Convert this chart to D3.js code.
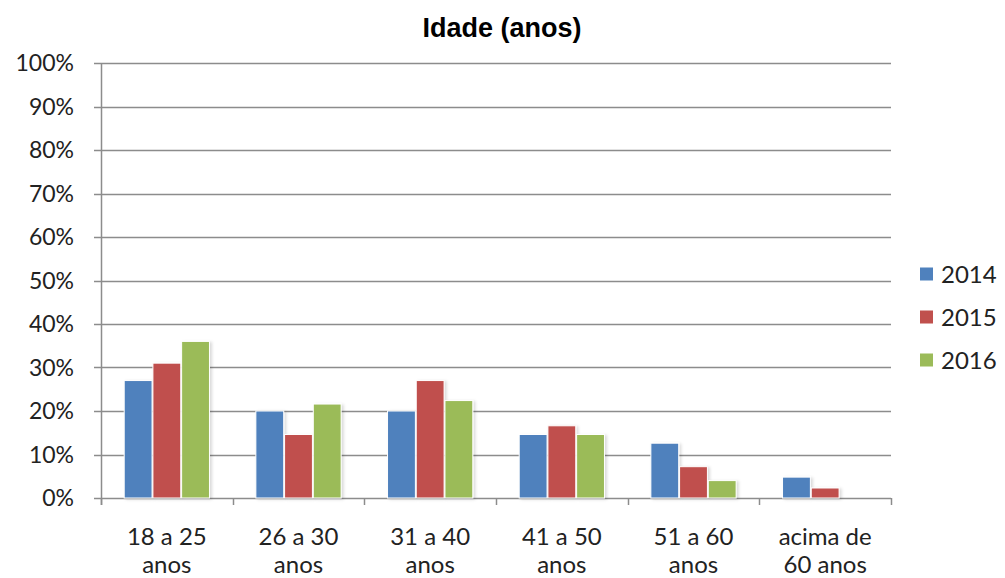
<!DOCTYPE html>
<html><head><meta charset="utf-8">
<script src="https://cdn.jsdelivr.net/npm/d3@7/dist/d3.min.js"></script>
<style>body{margin:0;background:#fff}</style>
</head><body>
<svg id="c" width="1005" height="578"></svg>
<script>
const categories = [["18 a 25","anos"],["26 a 30","anos"],["31 a 40","anos"],["41 a 50","anos"],["51 a 60","anos"],["acima de","60 anos"]];
const seriesNames = ["2014","2015","2016"];
const v2014 = [27, 20, 20, 14.6, 12.6, 4.8];
const v2015 = [31, 14.6, 27, 16.6, 7.2, 2.3];
const v2016 = [36, 21.6, 22.4, 14.6, 4, 0];
const colors = ["#4F81BD","#C0504D","#9BBB59"];
const yTicks = [0,10,20,30,40,50,60,70,80,90,100];
const title = "Idade (anos)";

(function(){
const series = [v2014, v2015, v2016];
const svg = d3.select("#c");
const mLeft = 101, mRight = 891, mTop = 63, mBottom = 498;
const font = "Lato, 'Open Sans', sans-serif";
const x = d3.scaleBand().domain(d3.range(categories.length)).range([mLeft, mRight]).paddingInner(0).paddingOuter(0);
const y = d3.scaleLinear().domain([0,100]).range([mBottom, mTop]);
const groupW = 87;
const xs = d3.scaleBand().domain(d3.range(3)).range([0, groupW]).padding(0.03);

const gridColor = "#8c8c8c";
svg.append("g").selectAll("line").data(yTicks).join("line")
  .attr("x1", mLeft - 7).attr("x2", mRight).attr("y1", d => Math.round(y(d))+0.5).attr("y2", d => Math.round(y(d))+0.5)
  .attr("stroke", gridColor).attr("stroke-width", 1.5);
svg.append("line").attr("x1", mLeft+0.5).attr("x2", mLeft+0.5).attr("y1", mTop).attr("y2", mBottom+7).attr("stroke", gridColor).attr("stroke-width",1.5);
svg.append("g").selectAll("line").data(d3.range(categories.length+1)).join("line")
  .attr("x1", i => Math.round(mLeft + i*x.bandwidth())+0.5).attr("x2", i => Math.round(mLeft + i*x.bandwidth())+0.5)
  .attr("y1", mBottom).attr("y2", mBottom+7).attr("stroke", gridColor).attr("stroke-width",1.5);

svg.append("g").selectAll("text").data(yTicks).join("text")
  .attr("x", 74).attr("y", d => y(d)).attr("dy","0.36em").attr("text-anchor","end")
  .attr("font-family", font).attr("font-size", 23).attr("fill","#222")
  .text(d => d + "%");

const defs = svg.append("defs");
const f = defs.append("filter").attr("id","sh").attr("x","-20%").attr("y","-20%").attr("width","150%").attr("height","150%");
f.append("feDropShadow").attr("dx",2).attr("dy",1).attr("stdDeviation",1.5).attr("flood-color","#000").attr("flood-opacity",0.15);

const groups = svg.append("g").selectAll("g").data(categories).join("g")
  .attr("transform", (d,i) => `translate(${x(i) + (x.bandwidth()-groupW)/2},0)`);
groups.selectAll("rect").data((d,i) => series.map((s,k) => ({k, v: s[i]})).filter(e => e.v > 0)).join("rect")
  .attr("x", d => xs(d.k)).attr("width", xs.bandwidth())
  .attr("y", d => y(d.v)).attr("height", d => mBottom - y(d.v))
  .attr("fill", d => colors[d.k]).attr("stroke","#fff").attr("stroke-width",1)
  .attr("filter","url(#sh)");

svg.append("g").selectAll("text").data(categories).join("text")
  .attr("x", (d,i) => x(i) + x.bandwidth()/2).attr("y", 545)
  .attr("text-anchor","middle").attr("font-family", font).attr("font-size",24).attr("fill","#222")
  .each(function(d){
    const t = d3.select(this);
    t.append("tspan").attr("x", t.attr("x")).text(d[0]);
    t.append("tspan").attr("x", t.attr("x")).attr("dy", 28).text(d[1]);
  });

svg.append("text").attr("x", 502).attr("y", 37).attr("text-anchor","middle")
  .attr("font-family","'Liberation Sans', Arial, sans-serif").attr("font-weight","bold").attr("font-size",27).attr("fill","#000").text(title);

const lg = svg.append("g").selectAll("g").data(seriesNames).join("g")
  .attr("transform",(d,i)=>`translate(920,${274 + i*43})`);
lg.append("rect").attr("x",0).attr("y",-6.5).attr("width",13).attr("height",13).attr("fill",(d,i)=>colors[i]);
lg.append("text").attr("x",21).attr("y",0).attr("dy","0.36em").attr("font-family", font).attr("font-size",24).attr("fill","#222").text(d=>d);
})();
</script>
</body></html>
